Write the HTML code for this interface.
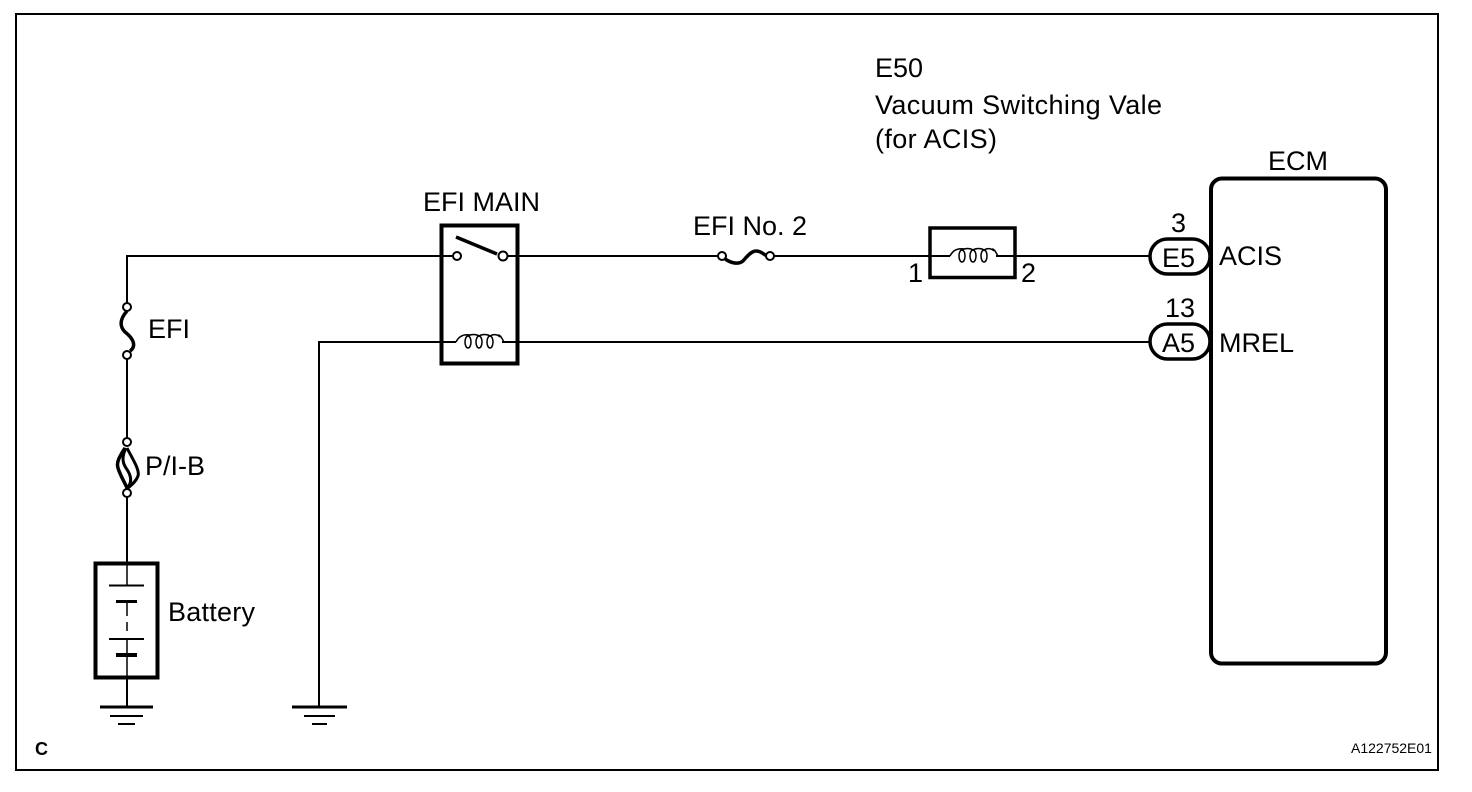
<!DOCTYPE html>
<html>
<head>
<meta charset="utf-8">
<style>
html,body{margin:0;padding:0;background:#fff;width:1472px;height:792px;overflow:hidden}
svg{display:block}
text{font-family:"Liberation Sans",sans-serif;font-size:27px;fill:#000}
</style>
</head>
<body>
<svg width="1472" height="792" viewBox="0 0 1472 792" xmlns="http://www.w3.org/2000/svg">
<rect width="1472" height="792" fill="#fff"/>
<g fill="none" stroke="#000">
  <!-- frame -->
  <rect x="16" y="14" width="1422" height="756" stroke-width="2"/>

  <!-- wires -->
  <path d="M127 303V256H1150" stroke-width="2"/>
  <path d="M127 359V438M127 497V707" stroke-width="2"/>
  <path d="M319 707V342H1150" stroke-width="2"/>

  <!-- battery -->
  <rect x="95.500" y="563.500" width="62" height="114" fill="#fff" stroke-width="4"/>
  <path d="M127 563V586M127 602V616M127 622V631" stroke-width="1.500"/>
  <path d="M127 640V655M127 656V678" stroke-width="1.500"/>
  <path d="M109 585.500H144M109 639H144" stroke-width="2"/>
  <path d="M116 601.500H137" stroke-width="3"/>
  <path d="M116 655H137" stroke-width="4"/>
  <path d="M127 678V707" stroke-width="2"/>

  <!-- grounds -->
  <path d="M100 707H153M292 707H347" stroke-width="3"/>
  <path d="M110 716H143M304 716H335M118 724H135M312 724H327" stroke-width="2"/>

  <!-- EFI fuse -->
  <path d="M127 311C119 320 120 327 125 332C133 338 137 346 130 351" stroke-width="3.500"/>
  <circle cx="127" cy="307" r="4" fill="#fff" stroke-width="2"/>
  <circle cx="127" cy="355" r="4" fill="#fff" stroke-width="2"/>

  <!-- P/I-B fusible link -->
  <path d="M125 448C120 456 116 462 118 468C120 475 125 483 127 488" stroke-width="3.500"/>
  <path d="M126 448C122 456 122 462 126 468C131 475 133 482 127 488" stroke-width="3"/>
  <path d="M127 448C132 458 140 470 138 476C136 482 130 486 127 489" stroke-width="3"/>
  <circle cx="127" cy="442" r="4" fill="#fff" stroke-width="2"/>
  <circle cx="127" cy="493" r="4" fill="#fff" stroke-width="2"/>

  <!-- EFI MAIN relay -->
  <rect x="441.500" y="225.500" width="76" height="138" stroke-width="4"/>
  <rect x="452" y="250" width="57" height="12" fill="#fff" stroke="none"/>
  <path d="M442 256H452M508 256H518" stroke-width="2"/>
  <path d="M456 237L497 254" stroke-width="3.500"/>
  <circle cx="457" cy="256" r="4" fill="#fff" stroke-width="2"/>
  <circle cx="503" cy="256" r="4.500" fill="#fff" stroke-width="2"/>
  <rect x="456" y="332" width="46" height="12" fill="#fff" stroke="none"/>
  <path d="M456 342C459 336 464 334 470 335M498 335C501 335 502 339 504 342" stroke-width="1.500"/>
  <ellipse cx="468" cy="342" rx="3" ry="6" stroke-width="1.500"/>
  <ellipse cx="479" cy="342" rx="3" ry="6" stroke-width="1.500"/>
  <ellipse cx="490" cy="342" rx="3" ry="6" stroke-width="1.500"/>
  <path d="M468 336C471 334 476 334 479 336C482 334 487 334 490 336C493 334 497 334 500 337" stroke-width="1.500"/>

  <!-- EFI No. 2 fuse -->
  <rect x="726" y="250" width="40" height="12" fill="#fff" stroke="none"/>
  <path d="M724 258C730 263 738 265 743 261C748 255 752 251 756 251C760 251 764 254 768 257" stroke-width="3.500"/>
  <circle cx="722" cy="256" r="4" fill="#fff" stroke-width="2"/>
  <circle cx="770" cy="256" r="4" fill="#fff" stroke-width="2"/>

  <!-- VSV coil box -->
  <rect x="930" y="228" width="85" height="49.500" stroke-width="3.500"/>
  <rect x="950" y="248" width="46" height="14" fill="#fff" stroke="none"/>
  <path d="M950 256C953 250 958 248 964 249M992 249C995 249 996 253 998 256" stroke-width="1.500"/>
  <ellipse cx="962" cy="256" rx="3" ry="6" stroke-width="1.500"/>
  <ellipse cx="973" cy="256" rx="3" ry="6" stroke-width="1.500"/>
  <ellipse cx="984" cy="256" rx="3" ry="6" stroke-width="1.500"/>
  <path d="M962 250C965 248 970 248 973 250C976 248 981 248 984 250C987 248 991 248 994 251" stroke-width="1.500"/>

  <!-- connectors -->
  <rect x="1150" y="239" width="60" height="35" rx="17.500" fill="#fff" stroke-width="3.500"/>
  <rect x="1150" y="324" width="60" height="35" rx="17.500" fill="#fff" stroke-width="3.500"/>

  <!-- ECM -->
  <rect x="1211" y="178.500" width="175" height="485" rx="11" stroke-width="4"/>
</g>

<g>
  <text x="875" y="77">E50</text>
  <text x="875" y="114" textLength="287">Vacuum Switching Vale</text>
  <text x="875" y="148" textLength="122">(for ACIS)</text>
  <text x="1268" y="170">ECM</text>
  <text x="423" y="211">EFI MAIN</text>
  <text x="693" y="235">EFI No. 2</text>
  <text x="908" y="282">1</text>
  <text x="1021" y="282">2</text>
  <text x="1171" y="232">3</text>
  <text x="1165" y="317">13</text>
  <text x="1162" y="267">E5</text>
  <text x="1162" y="352">A5</text>
  <text x="1219" y="265">ACIS</text>
  <text x="1219" y="352">MREL</text>
  <text x="148" y="338">EFI</text>
  <text x="145" y="475">P/I-B</text>
  <text x="168" y="621" textLength="87">Battery</text>
  <text x="35" y="755" style="font-size:18px;font-weight:bold">C</text>
  <text x="1351" y="753" style="font-size:14px">A122752E01</text>
</g>
</svg>
</body>
</html>
